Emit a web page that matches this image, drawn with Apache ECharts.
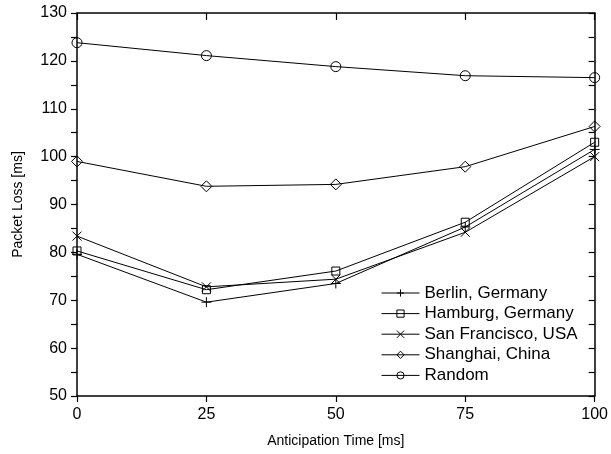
<!DOCTYPE html>
<html>
<head>
<meta charset="utf-8">
<script src="https://cdn.jsdelivr.net/npm/echarts@6/dist/echarts.min.js"></script>
<style>
  html, body { margin: 0; padding: 0; background: #fff; }
  #chart { width: 611px; height: 454px; }
</style>
</head>
<body>
<div id="chart"></div>
<script>
// Anticipation time (ms) on the x axis
const anticipation = [0, 25, 50, 75, 100];

// Packet loss (ms) per location
const berlin       = [79.6, 69.6, 73.5, 85.3, 101.5];
const hamburg      = [80.3, 72.2, 76.1, 86.3, 103.0];
const sanFrancisco = [83.4, 72.8, 74.4, 84.2, 100.0];
const shanghai     = [99.0, 93.8, 94.2, 97.9, 106.3];
const random       = [123.8, 121.1, 118.8, 116.9, 116.5];

const seriesNames = ['Berlin, Germany', 'Hamburg, Germany', 'San Francisco, USA', 'Shanghai, China', 'Random'];

const FONT = 'Liberation Sans, Arial, sans-serif';

const plusPath  = 'path://M0,5L10,5M5,0L5,10';
const crossPath = 'path://M0,0L10,10M10,0L0,10';

function pairs(values) {
  return anticipation.map((x, i) => [x, values[i]]);
}

function makeSeries(name, values, symbol, size) {
  return {
    name: name,
    type: 'line',
    data: pairs(values),
    symbol: symbol,
    symbolSize: size,
    symbolKeepAspect: true,
    showAllSymbol: true,
    color: '#000',
    lineStyle: { color: '#000', width: 1 },
    itemStyle: { color: 'transparent', borderColor: '#000', borderWidth: 1 },
    emphasis: { disabled: true },
    z: 3
  };
}

const chart = echarts.init(document.getElementById('chart'), null, { renderer: 'canvas' });

chart.setOption({
  animation: false,
  backgroundColor: '#fff',
  grid: { left: 77, right: 13, top: 13, bottom: 58, containLabel: false },
  legend: {
    orient: 'vertical',
    left: 381,
    top: 284.5,
    itemWidth: 38,
    itemHeight: 9,
    itemGap: 3.6,
    padding: 0,
    itemStyle: { color: 'transparent', borderColor: '#000', borderWidth: 1 },
    lineStyle: { color: '#000', width: 1 },
    textStyle: { fontFamily: FONT, fontSize: 17, color: '#000' },
    data: seriesNames
  },
  xAxis: [
    {
      type: 'value', position: 'bottom', min: 0, max: 100, interval: 25,
      name: 'Anticipation Time [ms]', nameLocation: 'middle', nameGap: 38,
      nameTextStyle: { fontFamily: FONT, fontSize: 14, color: '#000' },
      axisLine: { show: true, onZero: false, lineStyle: { color: '#000', width: 1.5 } },
      axisTick: { show: true, inside: false, length: 6, lineStyle: { color: '#000', width: 1.2 } },
      axisLabel: { fontFamily: FONT, fontSize: 16, color: '#000', margin: 11 },
      splitLine: { show: false }
    },
    {
      type: 'value', position: 'top', min: 0, max: 100, interval: 25,
      axisLine: { show: true, onZero: false, lineStyle: { color: '#000', width: 1.5 } },
      axisTick: { show: true, inside: true, length: 7, lineStyle: { color: '#000', width: 1.2 } },
      axisLabel: { show: false },
      splitLine: { show: false }
    }
  ],
  yAxis: [
    {
      type: 'value', position: 'left', min: 50, max: 130, interval: 5,
      name: 'Packet Loss [ms]', nameLocation: 'middle', nameGap: 52, nameRotate: 90,
      nameTextStyle: { fontFamily: FONT, fontSize: 14, color: '#000' },
      axisLine: { show: true, onZero: false, lineStyle: { color: '#000', width: 1.5 } },
      axisTick: { show: true, inside: false, length: 6, lineStyle: { color: '#000', width: 1.2 } },
      axisLabel: {
        fontFamily: FONT, fontSize: 16, color: '#000', margin: 10,
        formatter: v => (v % 10 === 0 ? String(v) : '')
      },
      splitLine: { show: false }
    },
    {
      type: 'value', position: 'right', min: 50, max: 130, interval: 5,
      axisLine: { show: true, onZero: false, lineStyle: { color: '#000', width: 1.5 } },
      axisTick: { show: true, inside: true, length: 6, lineStyle: { color: '#000', width: 1.2 } },
      axisLabel: { show: false },
      splitLine: { show: false }
    }
  ],
  series: [
    makeSeries(seriesNames[0], berlin, plusPath, 10),
    makeSeries(seriesNames[1], hamburg, 'rect', 8),
    makeSeries(seriesNames[2], sanFrancisco, crossPath, 9),
    makeSeries(seriesNames[3], shanghai, 'diamond', 11),
    makeSeries(seriesNames[4], random, 'circle', 10)
  ]
});
</script>
</body>
</html>
